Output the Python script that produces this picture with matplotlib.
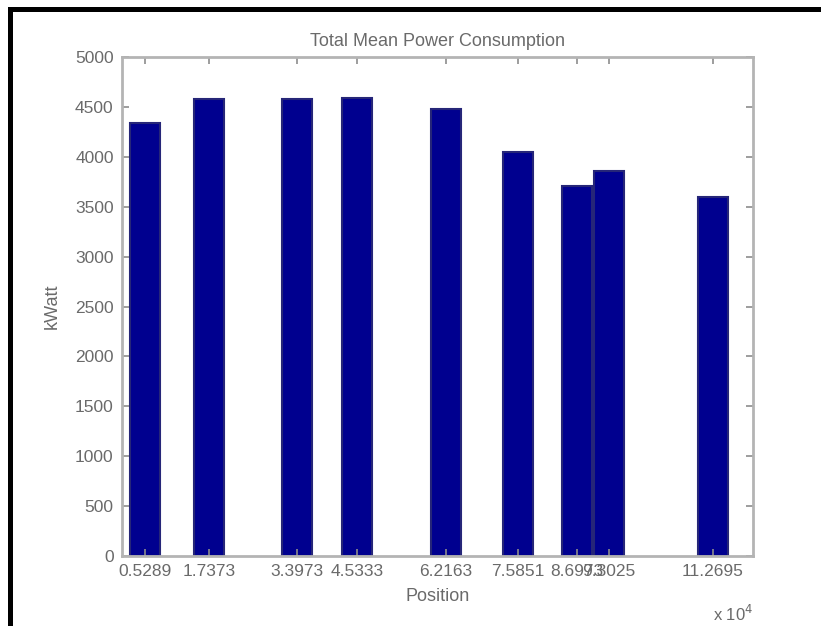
import matplotlib.pyplot as plt
from matplotlib.patches import Rectangle

# positions along the route (x 10^4) and mean power per position
positions = [0.5289, 1.7373, 3.3973, 4.5333, 6.2163, 7.5851, 8.6973, 9.3025, 11.2695]
tick_labels = ["0.5289", "1.7373", "3.3973", "4.5333", "6.2163", "7.5851", "8.6973", "9.3025", "11.2695"]
power_kw = [4340, 4580, 4580, 4590, 4480, 4050, 3710, 3860, 3600]
y_ticks = list(range(0, 5001, 500))

plt.rcParams['font.family'] = ['Liberation Sans', 'DejaVu Sans']
txt = '#6a6a6a'
axc = '#b4b4b4'

fig = plt.figure(figsize=(8.21, 6.26), dpi=100)
ax = fig.add_axes([0.1486, 0.1118, 0.7686, 0.797])

ax.bar(positions, power_kw, width=0.56, color='#00008f', edgecolor='#262678', linewidth=1.5)

ax.set_xlim(0.09, 12.03)
ax.set_ylim(0, 5000)
ax.set_xticks(positions)
ax.set_xticklabels(tick_labels)
ax.set_yticks(y_ticks)

ax.tick_params(direction='in', length=5, width=1.2, color='#8c8c8c', labelcolor=txt,
               labelsize=12.5, top=True, right=True, pad=6)
for s in ax.spines.values():
    s.set_color(axc)
    s.set_linewidth(2)

ax.set_title("Total Mean Power Consumption", fontsize=13, color=txt, pad=8)
ax.set_xlabel("Position", fontsize=13, color=txt, labelpad=6)
ax.set_ylabel("kWatt", fontsize=13, color=txt, labelpad=10)
ax.text(1.0, -0.095, r"x 10$^4$", transform=ax.transAxes, ha='right', va='top',
        fontsize=12, color=txt)

# black frame on the left and top edges of the figure
fig.add_artist(Rectangle((8 / 821, 0), 5 / 821, 1 - 7 / 626, transform=fig.transFigure,
                         facecolor='black', edgecolor='none'))
fig.add_artist(Rectangle((8 / 821, 1 - 12 / 626), 1, 5 / 626, transform=fig.transFigure,
                         facecolor='black', edgecolor='none'))

fig.savefig("out.png", dpi=100)
